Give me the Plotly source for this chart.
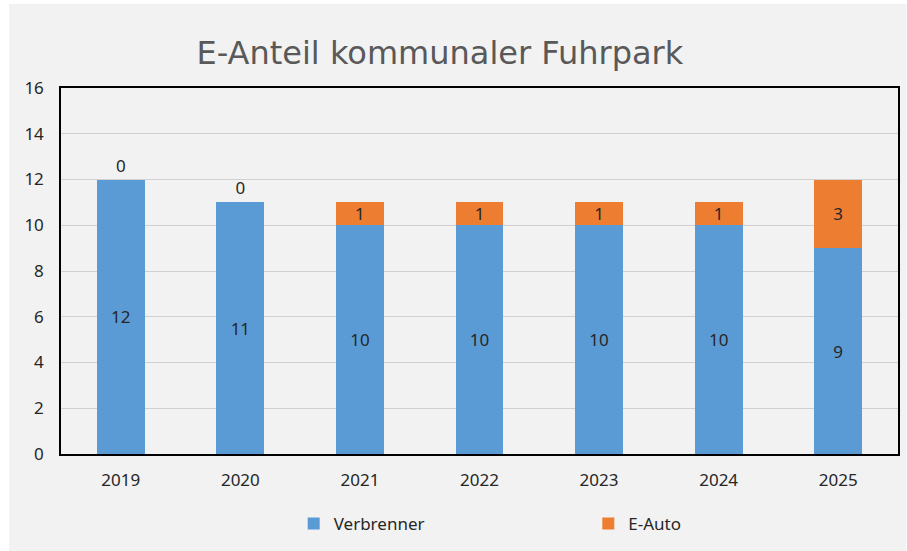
import plotly.graph_objects as go

years = ["2019", "2020", "2021", "2022", "2023", "2024", "2025"]
verbrenner = [12, 11, 10, 10, 10, 10, 9]
e_auto = [0, 0, 1, 1, 1, 1, 3]
y_ticks = [0, 2, 4, 6, 8, 10, 12, 14, 16]

font_family = "Noto Sans, Open Sans, sans-serif"

fig = go.Figure()
fig.add_trace(go.Bar(
    name="Verbrenner", x=years, y=verbrenner, legend="legend",
    marker=dict(color="#5b9bd5", line=dict(width=0)),
    text=[str(v) for v in verbrenner], textposition="inside", textangle=0,
    insidetextanchor="middle", constraintext="none",
    textfont=dict(size=17, color="#262626", family=font_family),
))
e_pos = ["outside" if v == 0 else "inside" for v in e_auto]
fig.add_trace(go.Bar(
    name="E-Auto", x=years, y=e_auto, legend="legend2",
    marker=dict(color="#ed7d31", line=dict(width=0)),
    text=[str(v) for v in e_auto], textposition=e_pos, textangle=0,
    insidetextanchor="middle", constraintext="none", cliponaxis=False,
    textfont=dict(size=17, color="#262626", family=font_family),
))

legend_common = dict(orientation="h", xanchor="left", y=-0.191, yanchor="middle",
                     itemwidth=30, font=dict(size=17, color="#262626"),
                     bgcolor="rgba(0,0,0,0)")

fig.update_layout(
    barmode="stack",
    bargap=0.6,
    width=907, height=551,
    margin=dict(l=61, r=7, t=88, b=97),
    paper_bgcolor="#ffffff",
    plot_bgcolor="#f2f2f2",
    font=dict(family=font_family, size=17, color="#262626"),
    title=dict(text="E-Anteil kommunaler Fuhrpark", x=0.485, xanchor="center",
               y=0.904, yanchor="middle",
               font=dict(size=32, color="#595959", family="DejaVu Sans, sans-serif")),
    showlegend=True,
    legend=dict(x=0.278, **legend_common),
    legend2=dict(x=0.630, **legend_common),
    shapes=[dict(type="rect", xref="paper", yref="paper", layer="below",
                 x0=-0.062, x1=1.01, y0=-0.27, y1=1.23,
                 fillcolor="#f2f2f2", line=dict(width=0))],
)
fig.update_xaxes(showline=True, mirror=True, linecolor="#000000", linewidth=1.5,
                 ticks="", tickfont=dict(size=17, color="#262626"), ticklabelstandoff=10)
fig.update_yaxes(range=[0, 16], tickvals=y_ticks, showline=True, mirror=True,
                 linecolor="#000000", linewidth=1.5, showgrid=True,
                 gridcolor="#d0d0d0", gridwidth=1, zeroline=False,
                 tickfont=dict(size=17, color="#262626"), ticklabelstandoff=12)

fig.write_html("out.html", config={"displayModeBar": False},
               post_script="document.body.style.margin='0';document.body.style.overflow='hidden';")
